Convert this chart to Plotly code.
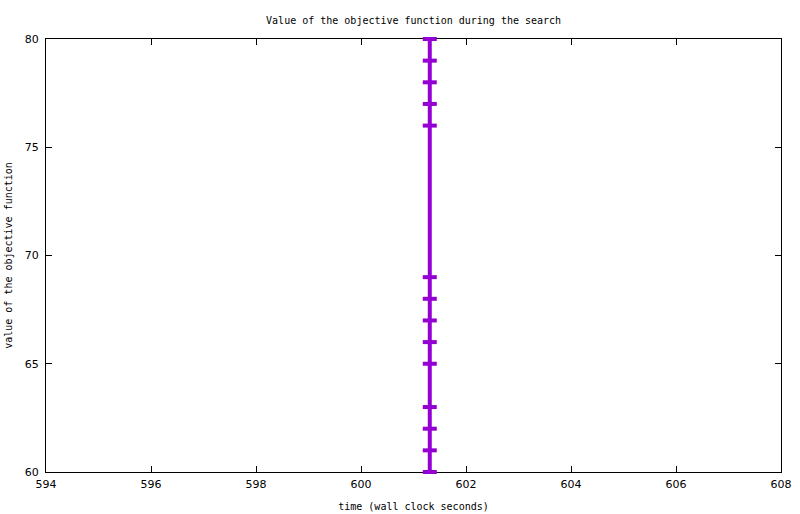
import plotly.graph_objects as go

# search trace: wall clock time vs objective value
times = [601.31] * 14
values = [80, 79, 78, 77, 76, 69, 68, 67, 66, 65, 63, 62, 61, 60]

x_ticks = [594, 596, 598, 600, 602, 604, 606, 608]
y_ticks = [60, 65, 70, 75, 80]

fig = go.Figure()
fig.add_trace(go.Scatter(
    x=times, y=values, mode="lines+markers",
    line=dict(color="#9400D3", width=4),
    marker=dict(symbol="line-ew", size=10, line=dict(color="#9400D3", width=4)),
    cliponaxis=False, showlegend=False,
))

axis_style = dict(
    showgrid=False, zeroline=False, showline=True, linecolor="black", linewidth=1,
    mirror="allticks", ticks="inside", ticklen=6, tickcolor="black",
    tickfont=dict(family="DejaVu Sans", size=11, color="black"),
    automargin=False, layer="below traces",
)

fig.update_layout(
    width=800, height=514,
    margin=dict(l=46, r=19, t=39, b=42),
    plot_bgcolor="white", paper_bgcolor="white",
    title=dict(text="Value of the objective function during the search",
               x=0.517, xanchor="center", y=0.961, yanchor="middle",
               font=dict(family="DejaVu Sans Mono", size=10, color="black")),
    xaxis=dict(range=[594, 608], tickvals=x_ticks, ticklabelstandoff=2,
               title=dict(text="time (wall clock seconds)", standoff=12,
                          font=dict(family="DejaVu Sans Mono", size=10, color="black")),
               **axis_style),
    yaxis=dict(range=[60, 80], tickvals=y_ticks, ticklabelstandoff=4,
               title=dict(text="value of the objective function", standoff=10,
                          font=dict(family="DejaVu Sans Mono", size=10, color="black")),
               **axis_style),
)

# drop the browser's default page margin so the figure sits at the window corner
fig.write_html("out.html", config={"displayModeBar": False},
               post_script="document.body.style.margin='0';")
